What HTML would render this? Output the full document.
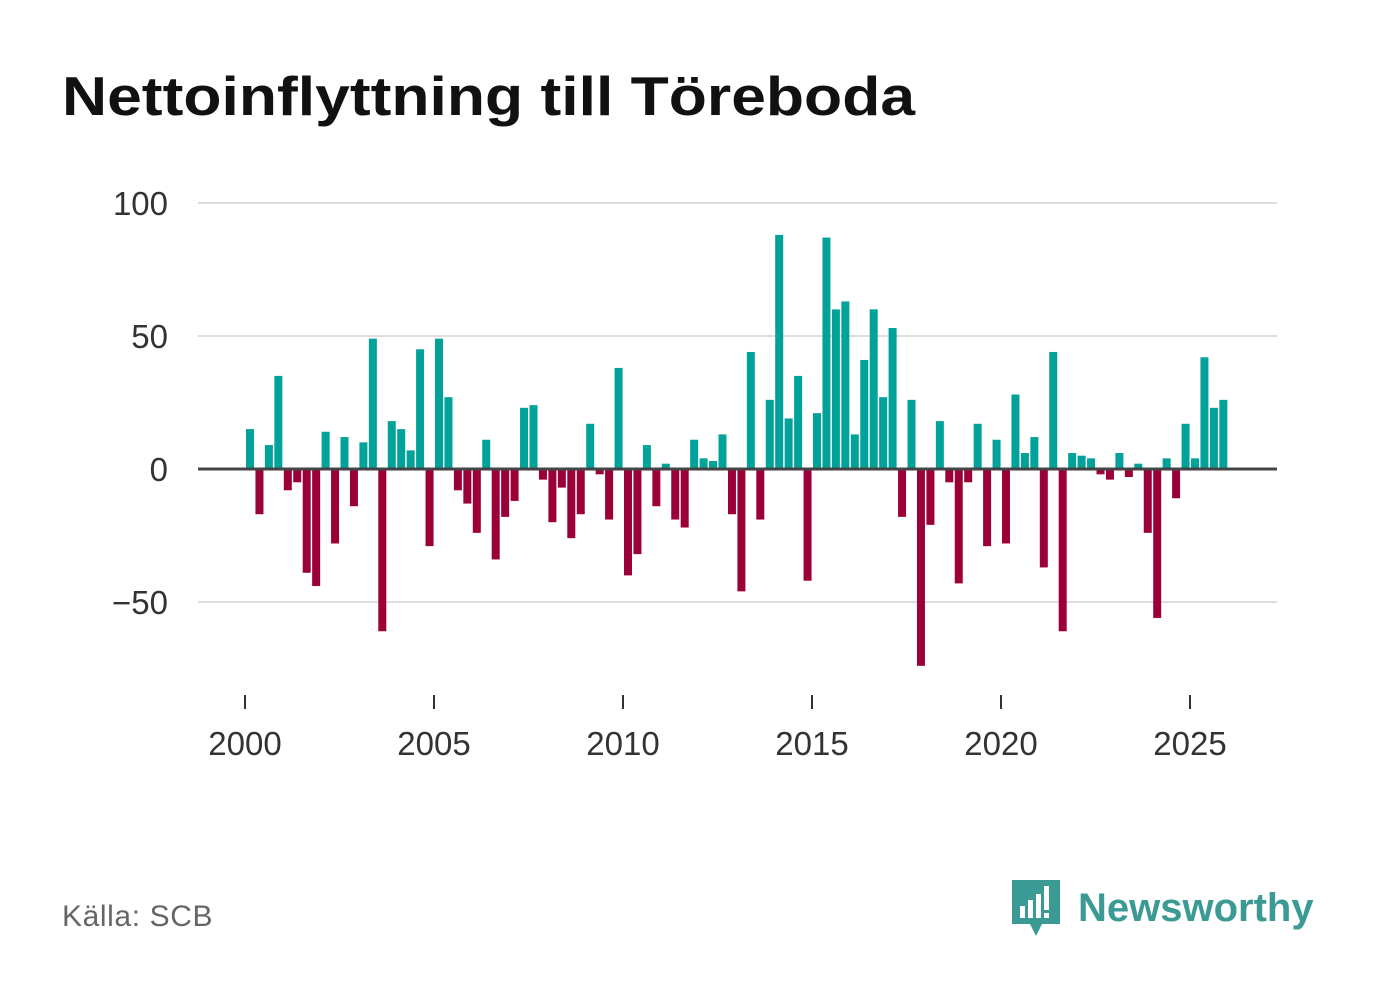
<!DOCTYPE html>
<html><head><meta charset="utf-8"><style>
body{margin:0;width:1382px;height:999px;background:#fff;font-family:"Liberation Sans","DejaVu Sans",sans-serif;overflow:hidden;position:relative}
#title{position:absolute;left:62px;top:64px;font-size:55px;font-weight:bold;color:#111;margin:0;transform:scaleX(1.135);transform-origin:left top;white-space:nowrap}
#src{position:absolute;left:62px;top:900px;font-size:30px;color:#666;letter-spacing:0.6px}
#logo{position:absolute;left:1010px;top:878px;display:flex;align-items:center}
#logo span{font-size:40px;font-weight:bold;color:#3b9a93;margin-left:16px}
</style></head><body>
<h1 id="title">Nettoinflyttning till Töreboda</h1>
<svg id="chart" width="1382" height="999" style="position:absolute;left:0;top:0"></svg>
<div id="src">Källa: SCB</div>
<div id="logo">
<svg width="52" height="60" viewBox="0 0 52 60"><path d="M2 2h48v44H32l-6 12-6-12H2z" fill="#3b9a93"/><rect x="10" y="28" width="5" height="12" fill="#fff"/><rect x="18" y="22" width="5" height="18" fill="#fff"/><rect x="26" y="16" width="5" height="24" fill="#fff"/><rect x="34" y="8" width="5" height="24" fill="#fff"/><rect x="34" y="35" width="5" height="5" fill="#fff"/></svg>
<span>Newsworthy</span></div>
<script>
const values=[15,-17,9,35,-8,-5,-39,-44,14,-28,12,-14,10,49,-61,18,15,7,45,-29,49,27,-8,-13,-24,11,-34,-18,-12,23,24,-4,-20,-7,-26,-17,17,-2,-19,38,-40,-32,9,-14,2,-19,-22,11,4,3,13,-17,-46,44,-19,26,88,19,35,-42,21,87,60,63,13,41,60,27,53,-18,26,-74,-21,18,-5,-43,-5,17,-29,11,-28,28,6,12,-37,44,-61,6,5,4,-2,-4,6,-3,2,-24,-56,4,-11,17,4,42,23,26];
const startYear=2000;
const yTicks=[100,50,0,-50];
const xTicks=[2000,2005,2010,2015,2020,2025];
const NS="http://www.w3.org/2000/svg";
const svg=document.getElementById('chart');
const y=v=>469-v*2.66;
const x=t=>245+(t-startYear)*37.8;
function mk(tag,attrs){const e=document.createElementNS(NS,tag);for(const k in attrs)e.setAttribute(k,attrs[k]);svg.appendChild(e);return e;}
yTicks.forEach(t=>{
 if(t!==0){const g=mk('line',{x1:198,x2:1277,y1:y(t),y2:y(t),stroke:'#ddd','stroke-width':2});
 
 }
 const l=mk('text',{x:168,y:y(t)+12,'text-anchor':'end','font-size':33,fill:'#333','font-family':'Liberation Sans, sans-serif'});
 l.textContent=t<0?'\u2212'+(-t):t;
 
 
});
values.forEach((v,i)=>{
 const cx=x(startYear+i/4)+5;
 const r=mk('rect',{x:cx-4,width:8,y:v>=0?y(v):y(0),height:Math.abs(v)*2.66,fill:v>=0?'#00a29a':'#9b0039'});
 
 
});
const z=mk('line',{x1:198,x2:1277,y1:y(0),y2:y(0),stroke:'#444','stroke-width':3});


xTicks.forEach(t=>{
 const tk=mk('line',{x1:x(t),x2:x(t),y1:695,y2:709,stroke:'#333','stroke-width':2});
 
 
 const l=mk('text',{x:x(t),y:755,'text-anchor':'middle','font-size':33,fill:'#333','font-family':'Liberation Sans, sans-serif'});
 l.textContent=t;
 
 
});
</script>
</body></html>
